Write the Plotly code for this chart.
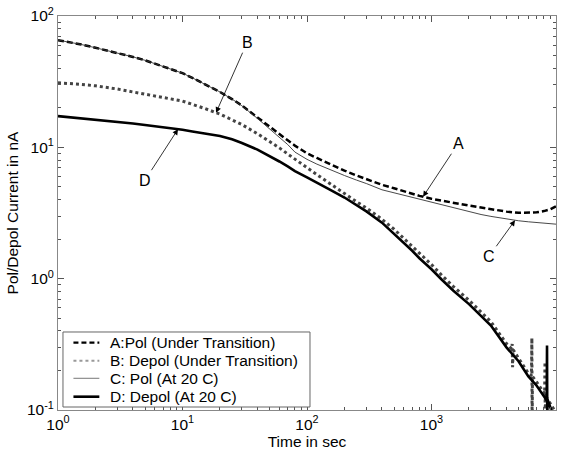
import numpy as np
import plotly.graph_objects as go

# ---- data ----
time_ac = [1, 1.2, 1.5, 2, 2.5, 3, 4, 5, 6, 7, 8, 10, 12, 15, 20, 25, 30, 40, 50, 60, 70,
           80, 100, 120, 150, 200, 250, 300, 400, 500, 600, 700, 800, 1000, 1200, 1500,
           2000, 2500, 3000, 4000, 5000, 6000, 7000, 8000, 9000, 10000]
pol_transition = [65.5, 63.5, 61, 57.3, 54.5, 52.3, 48.8, 46, 43.5, 41.5, 39.8, 36.7, 33.8,
                  30.3, 26.4, 23.3, 20.8, 16.9, 14.3, 12.6, 11.3, 10.3, 9.0, 8.3, 7.5, 6.65,
                  6.1, 5.7, 5.18, 4.88, 4.63, 4.44, 4.27, 4.06, 3.92, 3.77, 3.6, 3.48, 3.38,
                  3.24, 3.17, 3.17, 3.2, 3.27, 3.37, 3.55]
pol_20c = [65.5, 63.5, 61, 57.3, 54.5, 52.3, 48.8, 46, 43.5, 41.5, 39.8, 36.7, 33.8,
           30.3, 26.4, 23.3, 20.7, 16.6, 13.8, 12.0, 10.5, 9.2, 8.1, 7.45, 6.8, 6.1,
           5.63, 5.3, 4.75, 4.5, 4.32, 4.16, 4.03, 3.82, 3.65, 3.45, 3.22, 3.08, 2.98,
           2.84, 2.76, 2.71, 2.67, 2.64, 2.62, 2.6]

time_b = [1, 1.2, 1.5, 2, 2.5, 3, 4, 5, 6, 7, 8, 10, 12, 15, 20, 25, 30, 40, 50, 60, 70,
          80, 100, 120, 150, 200, 250, 300, 400, 500, 600, 700, 800, 1000, 1200, 1500,
          2000, 2500, 3000, 4000, 4400, 4450, 4480, 4530, 5000, 6000, 6350, 6400, 6430,
          6470, 7000, 8000, 8100, 8160, 8200, 8260, 9000, 10000]
depol_transition = [31.0, 30.7, 30.2, 29.4, 28.6, 27.8, 26.4, 25.3, 24.5, 23.9, 23.4, 22.5,
                    21.3, 19.8, 17.9, 16.2, 14.9, 12.7, 11.1, 9.9, 8.9, 8.1, 7.0, 6.2,
                    5.35, 4.45, 3.85, 3.45, 2.83, 2.38, 2.03, 1.77, 1.56, 1.28, 1.07, 0.87,
                    0.685, 0.56, 0.47, 0.32, 0.292, 0.318, 0.212, 0.287, 0.25, 0.19, 0.183,
                    0.353, 0.07, 0.18, 0.163, 0.136, 0.133, 0.232, 0.07, 0.128, 0.112, 0.095]

time_d = [1, 1.2, 1.5, 2, 2.5, 3, 4, 5, 6, 7, 8, 10, 12, 15, 20, 25, 30, 40, 50, 60, 70,
          80, 100, 120, 150, 200, 250, 300, 400, 500, 600, 700, 800, 1000, 1200, 1500,
          2000, 2500, 3000, 4000, 5000, 6000, 7000, 8000, 8420, 8470, 8510, 8560, 9000,
          9400, 10000]
depol_20c = [17.3, 17.0, 16.8, 16.4, 16.0, 15.7, 15.2, 14.8, 14.5, 14.2, 14.0, 13.6, 13.2,
             12.8, 12.2, 11.5, 10.8, 9.6, 8.6, 7.8, 7.15, 6.6, 5.9, 5.4, 4.8, 4.15, 3.65,
             3.25, 2.67, 2.2, 1.87, 1.63, 1.43, 1.18, 0.99, 0.81, 0.64, 0.52, 0.44, 0.3,
             0.235, 0.18, 0.153, 0.127, 0.118, 0.31, 0.085, 0.12, 0.105, 0.092, 0.085]

names = ["A:Pol (Under Transition)", "B: Depol (Under Transition)",
         "C: Pol (At 20 C)", "D: Depol (At 20 C)"]

# annotation labels and the time at which each arrow touches its curve
ann_labels = ["A", "B", "C", "D"]
ann_times = [855, 18.6, 4690, 9.2]
ann_offsets = [(35, -53), (31, -70), (-26, 36), (-33, 51)]

FONT = "Arial, Liberation Sans, sans-serif"

styles = [
    dict(color="black", width=2.5, dash="6px,3px"),
    dict(color="#444444", width=3, dash="dot"),
    dict(color="#333333", width=0.9),
    dict(color="black", width=2.6),
]
legend_styles = [
    dict(color="black", width=2.2, dash="5px,3px"),
    dict(color="#999999", width=2, dash="dot"),
    dict(color="#666666", width=0.9),
    dict(color="black", width=2.6),
]

fig = go.Figure()
series = [(time_ac, pol_transition), (time_b, depol_transition),
          (time_ac, pol_20c), (time_d, depol_20c)]
for (t, v), ln, nm in zip(series, styles, names):
    fig.add_trace(go.Scatter(x=t, y=v, mode="lines", name=nm, line=ln, showlegend=False))

# arrows
for lab, t, (ox, oy), (tt, vv) in zip(ann_labels, ann_times, ann_offsets, series):
    yv = 10 ** np.interp(np.log10(t), np.log10(tt), np.log10(vv))
    fig.add_annotation(x=np.log10(t), y=np.log10(yv), ax=ox, ay=oy, text=lab,
                       showarrow=True, arrowhead=2, arrowsize=1.4, arrowwidth=0.8,
                       arrowcolor="black", font=dict(family=FONT, size=16, color="black"))

# legend box (drawn as shapes + text so its compact row spacing matches)
fig.add_shape(type="rect", xref="paper", yref="paper", x0=0.010, x1=0.506, y0=0.0076,
              y1=0.198, line=dict(color="#666", width=1), fillcolor="white", layer="above")
row_y = [0.1708, 0.1251, 0.0805, 0.0338]
for yy, ln, nm in zip(row_y, legend_styles, names):
    fig.add_shape(type="line", xref="paper", yref="paper", x0=0.031, x1=0.083, y0=yy, y1=yy,
                  line=ln, layer="above")
    fig.add_annotation(xref="paper", yref="paper", x=0.1004, y=yy, text=nm, showarrow=False,
                       xanchor="left", yanchor="middle",
                       font=dict(family=FONT, size=15.5, color="black"))

minor_vals = [m * 10 ** e for e in range(-1, 4) for m in range(2, 10)]

def sup(e):
    return "10<sup>%d</sup>" % e

common = dict(type="log", ticks="inside", ticklen=6, tickcolor="#555", linecolor="#888",
              linewidth=1, mirror="ticks", showgrid=False, zeroline=False, automargin=False,
              minor=dict(tickvals=minor_vals, ticks="inside", ticklen=3, tickcolor="#555",
                         showgrid=False),
              tickfont=dict(family=FONT, size=15.5, color="black"))
fig.update_xaxes(range=[0, 4], tickvals=[1, 10, 100, 1000, 10000],
                 ticktext=[sup(e) for e in range(0, 5)],
                 title=dict(text="Time in sec", font=dict(family=FONT, size=15.5, color="black"),
                            standoff=2), **common)
fig.update_yaxes(range=[-1, 2], tickvals=[0.1, 1, 10, 100],
                 ticktext=[sup(e) for e in range(-1, 3)],
                 title=dict(text="Pol/Depol Current in nA",
                            font=dict(family=FONT, size=15.5, color="black"), standoff=4),
                 **common)

fig.update_layout(
    width=567, height=456,
    margin=dict(l=58, r=11, t=16, b=46),
    plot_bgcolor="white", paper_bgcolor="white",
    font=dict(family=FONT, color="black"),
    showlegend=False,
)

fig.write_html("out.html", config={"displayModeBar": False},
               post_script="document.body.style.margin='0';document.body.style.padding='0';")
